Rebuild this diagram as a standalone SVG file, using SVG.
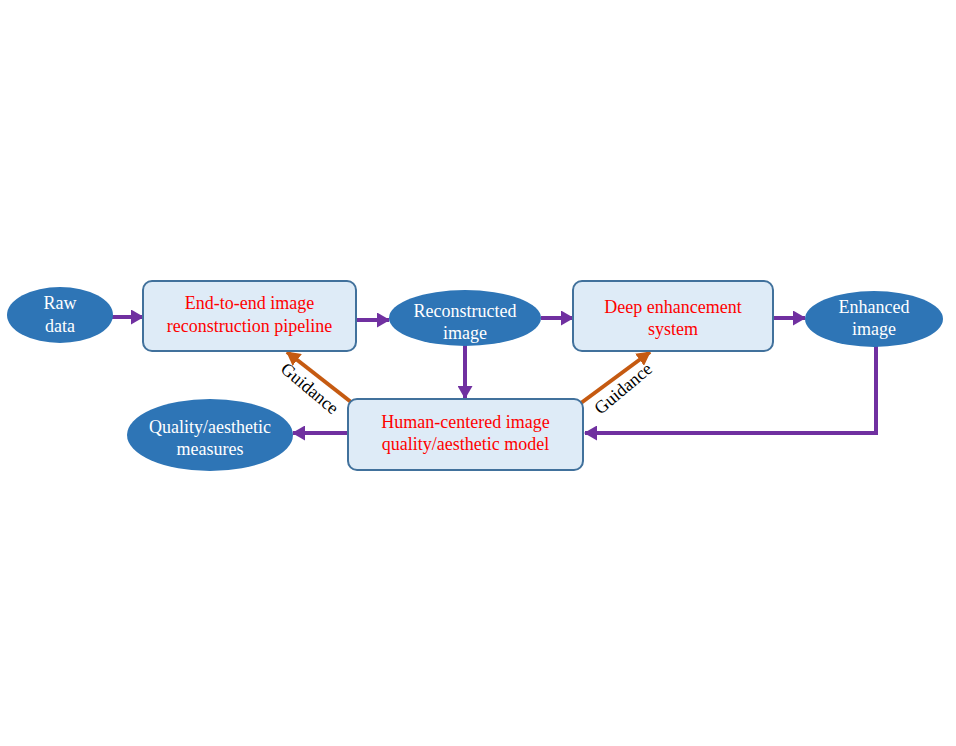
<svg xmlns="http://www.w3.org/2000/svg" width="956" height="746" viewBox="0 0 956 746">
<style>
.ell{fill:#2E75B6;}
.box{fill:#DEEBF7;stroke:#41719C;stroke-width:2;}
.wt{fill:#FFFFFF;font-family:"Liberation Serif","Times New Roman",serif;font-size:18px;text-anchor:middle;}
.rt{fill:#FF0000;font-family:"Liberation Serif","Times New Roman",serif;font-size:18px;text-anchor:middle;}
.gt{fill:#000000;font-family:"Liberation Serif","Times New Roman",serif;font-size:18px;text-anchor:middle;}
.pa{stroke:#7030A0;stroke-width:4;fill:none;marker-end:url(#hp);}
.oa{stroke:#C55A11;stroke-width:4;fill:none;marker-end:url(#ho);}
</style>
<defs>
<marker id="hp" markerUnits="userSpaceOnUse" markerWidth="13" markerHeight="15" refX="12" refY="7.5" orient="auto">
<path d="M0,0 L13,7.5 L0,15 Z" fill="#7030A0"/>
</marker>
<marker id="ho" markerUnits="userSpaceOnUse" markerWidth="14" markerHeight="15" refX="13" refY="7.5" orient="auto">
<path d="M0,0 L14,7.5 L0,15 Z" fill="#C55A11"/>
</marker>
</defs>
<rect width="956" height="746" fill="#FFFFFF"/>
<g id="connectors">
<line class="pa" x1="112" y1="317" x2="143" y2="317"/>
<line class="pa" x1="356" y1="320" x2="389" y2="320"/>
<line class="pa" x1="541" y1="318" x2="573" y2="318"/>
<line class="pa" x1="773" y1="318" x2="805" y2="318"/>
<line class="pa" x1="465" y1="345" x2="465" y2="398"/>
<polyline class="pa" points="876,345 876,433 585,433"/>
<line class="pa" x1="348" y1="433" x2="293" y2="433"/>
<line class="oa" x1="351" y1="402" x2="287" y2="352"/>
<line class="oa" x1="581" y1="403" x2="650" y2="352"/>
<text class="gt" transform="translate(306,393) rotate(40)">Guidance</text>
<text class="gt" transform="translate(627,393) rotate(-40)">Guidance</text>
</g>
<g id="raw-data">
<ellipse class="ell" cx="60" cy="315" rx="53" ry="28"/>
<text class="wt" x="60" y="309">Raw</text>
<text class="wt" x="60" y="332">data</text>
</g>
<g id="pipeline">
<rect class="box" x="143" y="281" width="213" height="70" rx="9"/>
<text class="rt" x="249.5" y="309">End-to-end image</text>
<text class="rt" x="249.5" y="332">reconstruction pipeline</text>
</g>
<g id="reconstructed-image">
<ellipse class="ell" cx="465" cy="318" rx="76" ry="28"/>
<text class="wt" x="465" y="317">Reconstructed</text>
<text class="wt" x="465" y="339">image</text>
</g>
<g id="deep-enhancement">
<rect class="box" x="573" y="281" width="200" height="70" rx="9"/>
<text class="rt" x="673" y="313">Deep enhancement</text>
<text class="rt" x="673" y="335">system</text>
</g>
<g id="enhanced-image">
<ellipse class="ell" cx="874" cy="319" rx="69" ry="28"/>
<text class="wt" x="874" y="313">Enhanced</text>
<text class="wt" x="874" y="335">image</text>
</g>
<g id="human-model">
<rect class="box" x="348" y="399" width="235" height="71" rx="9"/>
<text class="rt" x="465.5" y="428">Human-centered image</text>
<text class="rt" x="465.5" y="450">quality/aesthetic model</text>
</g>
<g id="quality-measures">
<ellipse class="ell" cx="210" cy="435" rx="83" ry="36"/>
<text class="wt" x="210" y="433">Quality/aesthetic</text>
<text class="wt" x="210" y="455">measures</text>
</g>
</svg>
